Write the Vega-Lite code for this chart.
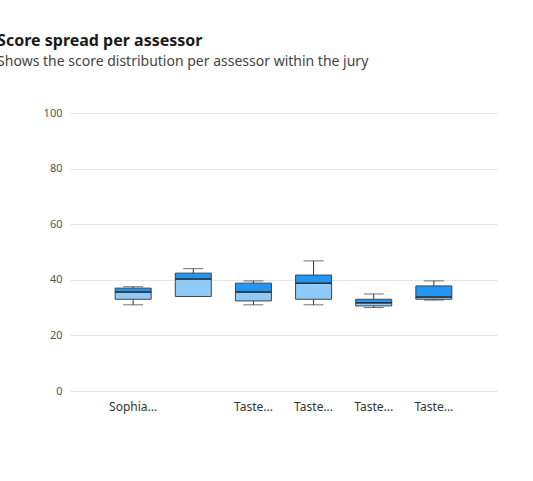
{
  "$schema": "https://vega.github.io/schema/vega-lite/v6.json",
  "width": 427,
  "height": 278,
  "autosize": {"type": "none"},
  "padding": {"left": 70, "top": 113, "right": 36, "bottom": 90},
  "background": "white",
  "config": {"view": {"stroke": null}, "font": "Noto Sans"},
  "title": {
    "text": "Score spread per assessor",
    "subtitle": "Shows the score distribution per assessor within the jury",
    "anchor": "start",
    "dx": -46,
    "fontSize": 16,
    "fontWeight": "bold",
    "color": "#1a1a1a",
    "subtitleFontSize": 14,
    "subtitleColor": "#444",
    "subtitlePadding": 6,
    "offset": 38
  },
  "data": {"values": [
    {"id": "a", "min": 31, "q1": 33, "median": 35.6, "q3": 37, "max": 37.5},
    {"id": "b", "min": 34, "q1": 34, "median": 40.3, "q3": 42.4, "max": 44},
    {"id": "c", "min": 31, "q1": 32.4, "median": 35.6, "q3": 38.8, "max": 39.6},
    {"id": "d", "min": 31, "q1": 33, "median": 38.8, "q3": 41.7, "max": 46.8},
    {"id": "e", "min": 30, "q1": 30.6, "median": 31.7, "q3": 33, "max": 34.9},
    {"id": "f", "min": 32.7, "q1": 33, "median": 33.8, "q3": 37.8, "max": 39.6}
  ]},
  "encoding": {
    "x": {"field": "id", "type": "nominal", "title": null,
      "scale": {"paddingInner": 0.5, "paddingOuter": 0.8},
      "axis": {"labelAngle": 0, "domain": false, "ticks": false, "labelPadding": 10, "labelFontSize": 12, "labelColor": "#333",
        "labelExpr": "{'a':'Sophia...','b':'','c':'Taste...','d':'Taste...','e':'Taste...','f':'Taste...'}[datum.value]"}}
  },
  "layer": [
    {"mark": {"type": "rule", "color": "#333"},
     "encoding": {
       "y": {"field": "min", "type": "quantitative", "title": null,
         "scale": {"domain": [0, 100]},
         "axis": {"values": [0, 20, 40, 60, 80, 100], "domain": false, "ticks": false, "labelPadding": 8, "labelFontSize": 11, "labelColor": "#555", "gridColor": "#e6e6e6"}},
       "y2": {"field": "max"}}},
    {"mark": {"type": "tick", "color": "#333", "size": 20, "thickness": 1},
     "encoding": {"y": {"field": "max", "type": "quantitative"}}},
    {"mark": {"type": "tick", "color": "#333", "size": 20, "thickness": 1},
     "encoding": {"y": {"field": "min", "type": "quantitative"}}},
    {"mark": {"type": "bar", "fill": "#90CAF9", "stroke": "#444", "strokeWidth": 1, "width": 36},
     "encoding": {"y": {"field": "q1", "type": "quantitative"}, "y2": {"field": "median"}}},
    {"mark": {"type": "bar", "fill": "#2196F3", "stroke": "#444", "strokeWidth": 1, "width": 36},
     "encoding": {"y": {"field": "median", "type": "quantitative"}, "y2": {"field": "q3"}}},
    {"mark": {"type": "tick", "color": "#222", "size": 36, "thickness": 1.5},
     "encoding": {"y": {"field": "median", "type": "quantitative"}}}
  ]
}
